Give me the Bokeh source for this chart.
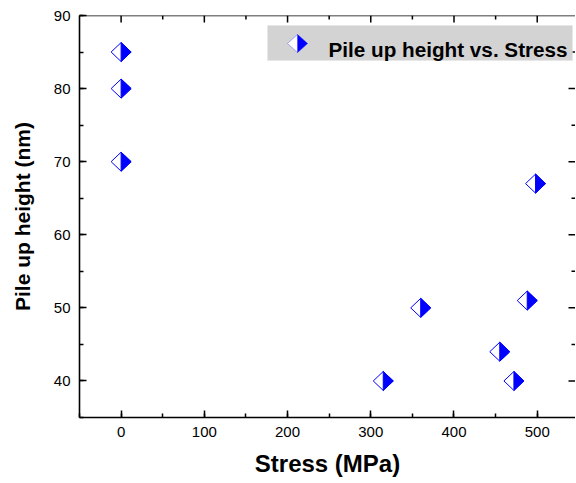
from bokeh.plotting import figure
from bokeh.models import (SingleIntervalTicker, Range1d, BoxAnnotation, Label, PolyAnnotation)
from bokeh.embed import file_html
from bokeh.resources import INLINE

# ---- data ----
stress = [0, 0, 0, 315, 360, 455, 472, 488, 498]
pile_up = [85, 80, 70, 40, 50, 44, 40, 51, 67]
series_name = "Pile up height vs. Stress"
x_label = "Stress (MPa)"
y_label = "Pile up height (nm)"
x_major_ticks = [0, 100, 200, 300, 400, 500]
x_minor_ticks = [50, 150, 250, 350, 450]
y_major_ticks = [40, 50, 60, 70, 80]
y_minor_ticks = [45, 55, 65, 75, 85]

# ---- layout ----
X0, X1 = -50, 546
Y0, Y1 = 35, 90
FW, FH = 496, 402
FONT = "Liberation Sans"
BLUE = "#0000ff"

p = figure(frame_width=FW, frame_height=FH, output_backend="svg", toolbar_location=None,
           x_range=Range1d(X0, X1), y_range=Range1d(Y0, Y1),
           min_border_left=79, min_border_top=15, min_border_right=0, min_border_bottom=2,
           background_fill_color="white", border_fill_color="white")
p.outline_line_color = None
p.xgrid.visible = False
p.ygrid.visible = False

for ax in (p.xaxis[0], p.yaxis[0]):
    ax.axis_line_width = 1.6
    ax.axis_line_color = "black"
    ax.major_tick_in = 7
    ax.major_tick_out = 0
    ax.minor_tick_in = 4
    ax.minor_tick_out = 0
    ax.major_tick_line_width = 1.5
    ax.minor_tick_line_width = 1.5
    ax.major_tick_line_color = "black"
    ax.minor_tick_line_color = "black"
    ax.major_label_text_font = FONT
    ax.major_label_text_font_size = "15px"
    ax.major_label_text_color = "black"
    ax.axis_label_text_font = FONT
    ax.axis_label_text_font_style = "bold"
    ax.axis_label_text_color = "black"

p.xaxis.ticker = SingleIntervalTicker(interval=100, num_minor_ticks=2)
p.yaxis.ticker = SingleIntervalTicker(interval=10, num_minor_ticks=2)
p.xaxis.axis_label = x_label
p.yaxis.axis_label = y_label
p.xaxis.axis_label_text_font_size = "24px"
p.yaxis.axis_label_text_font_size = "21px"
p.xaxis.major_label_standoff = 9
p.xaxis.axis_label_standoff = 10
p.yaxis.major_label_standoff = 9
p.yaxis.axis_label_standoff = 17

# ---- top spine and inward ticks on top / right (frame edges) ----
px_x = (X1 - X0) / FW
px_y = (Y1 - Y0) / FH
p.segment(x0=[X0], y0=[Y1], x1=[X1], y1=[Y1], line_color="black", line_width=1.6)
p.segment(x0=x_major_ticks, y0=[Y1] * len(x_major_ticks), x1=x_major_ticks,
          y1=[Y1 - 7 * px_y] * len(x_major_ticks), line_color="black", line_width=1.5)
p.segment(x0=x_minor_ticks, y0=[Y1] * len(x_minor_ticks), x1=x_minor_ticks,
          y1=[Y1 - 4 * px_y] * len(x_minor_ticks), line_color="black", line_width=1.5)
p.segment(x0=[X1] * len(y_major_ticks), y0=y_major_ticks, x1=[X1 - 7 * px_x] * len(y_major_ticks),
          y1=y_major_ticks, line_color="black", line_width=1.5)
p.segment(x0=[X1] * len(y_minor_ticks), y0=y_minor_ticks, x1=[X1 - 4 * px_x] * len(y_minor_ticks),
          y1=y_minor_ticks, line_color="black", line_width=1.5)

# ---- half-filled diamond markers, built from the data ----
HALF_W_PX, HALF_H_PX = 10, 9.5
dx = HALF_W_PX * px_x
dy = HALF_H_PX * px_y
full_xs = [[x - dx, x, x + dx, x] for x in stress]
full_ys = [[y, y + dy, y, y - dy] for y in pile_up]
half_xs = [[x, x + dx, x] for x in stress]
half_ys = [[y + dy, y, y - dy] for y in pile_up]

p.patches(full_xs, full_ys, fill_color="white", line_color=BLUE, line_width=1)
p.patches(half_xs, half_ys, fill_color=BLUE, line_color=BLUE, line_width=1)

# ---- legend (canvas units) ----
LX0, LX1, LY0, LY1 = 267, 572, 25, 60
box = BoxAnnotation(left=LX0, right=LX1, top=LY0, bottom=LY1,
                    left_units="canvas", right_units="canvas",
                    top_units="canvas", bottom_units="canvas",
                    fill_color="#d3d3d3", fill_alpha=1.0,
                    line_color="#e6e6e6", line_width=1, level="overlay")
p.add_layout(box)
cx, cy = 297, 43
p.add_layout(PolyAnnotation(xs=[cx - 10, cx, cx + 10, cx], ys=[cy, cy - 9, cy, cy + 9],
                            xs_units="canvas", ys_units="canvas",
                            fill_color="white", fill_alpha=1.0, line_color=BLUE,
                            line_width=1, level="overlay"))
p.add_layout(PolyAnnotation(xs=[cx, cx + 10, cx], ys=[cy - 9, cy, cy + 9],
                            xs_units="canvas", ys_units="canvas",
                            fill_color=BLUE, fill_alpha=1.0, line_color=BLUE,
                            line_width=1, level="overlay"))
p.add_layout(Label(x=328, y=49, x_units="canvas", y_units="canvas", text=series_name,
                   text_font=FONT, text_font_size="20.7px", text_font_style="bold",
                   text_color="black", text_baseline="alphabetic", level="overlay"))

open("out.html", "w").write(file_html(p, INLINE))
